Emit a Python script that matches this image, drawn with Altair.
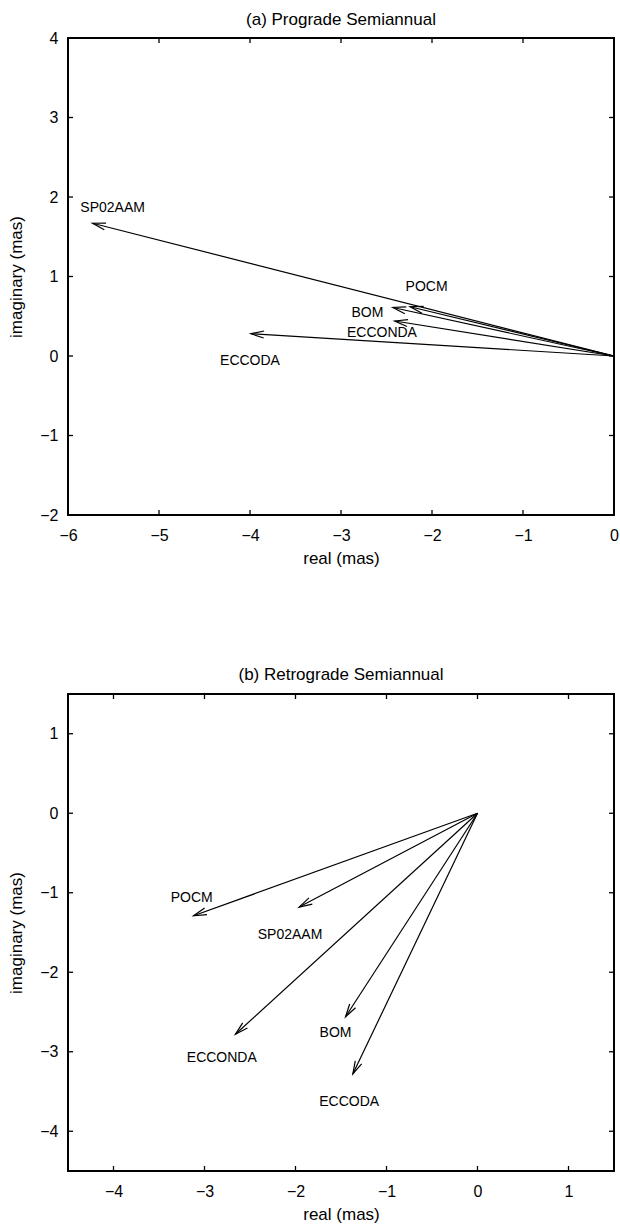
import altair as alt
import pandas as pd

FONT = "Liberation Sans"

# ---- panel (a) prograde semiannual ----
names_a = ["SP02AAM", "POCM", "BOM", "ECCONDA", "ECCODA"]
re_a = [-5.73, -2.24, -2.43, -2.41, -3.99]
im_a = [1.67, 0.62, 0.61, 0.44, 0.28]
label_re_a = [-5.51, -2.06, -2.71, -2.55, -4.00]
label_im_a = [1.86, 0.87, 0.54, 0.29, -0.06]
xticks_a = [-6, -5, -4, -3, -2, -1, 0]
yticks_a = [-2, -1, 0, 1, 2, 3, 4]
xdomain_a = [-6, 0]
ydomain_a = [-2, 4]

# ---- panel (b) retrograde semiannual ----
names_b = ["POCM", "SP02AAM", "ECCONDA", "BOM", "ECCODA"]
re_b = [-3.12, -1.96, -2.66, -1.45, -1.37]
im_b = [-1.29, -1.18, -2.78, -2.56, -3.28]
label_re_b = [-3.14, -2.06, -2.81, -1.56, -1.41]
label_im_b = [-1.06, -1.53, -3.08, -2.76, -3.63]
xticks_b = [-4, -3, -2, -1, 0, 1]
yticks_b = [-4, -3, -2, -1, 0, 1]
xdomain_b = [-4.5, 1.5]
ydomain_b = [-4.5, 1.5]

W, H = 546, 477
TICK = 5
HEAD = "M-1,-0.27L0,0L-1,0.27"


def panel(title, names, re, im, lre, lim, xdom, ydom, xt, yt, toff):
    sx = W / (xdom[1] - xdom[0])
    sy = H / (ydom[1] - ydom[0])
    arrows = pd.DataFrame({"name": names, "re": re, "im": im})
    labels = pd.DataFrame({"name": names, "lre": lre, "lim": lim})
    xs = alt.Scale(domain=xdom, nice=False, zero=False)
    ys = alt.Scale(domain=ydom, nice=False, zero=False)
    xaxis = alt.Axis(values=xt, ticks=False, tickSize=0, domain=False, grid=False,
                     labelPadding=12, titlePadding=7, labelFlush=False,
                     labelOverlap=False, format="d")
    yaxis = alt.Axis(values=yt, ticks=False, tickSize=0, domain=False, grid=False,
                     labelPadding=10, titlePadding=14, labelFlush=False,
                     labelOverlap=False, format="d")
    XT = "real (mas)"
    YT = "imaginary (mas)"

    shafts = alt.Chart(arrows).transform_calculate(o0="0").mark_rule(
        color="black", strokeWidth=1.2
    ).encode(
        x=alt.X("o0:Q", scale=xs, axis=xaxis, title=XT),
        x2="re:Q",
        y=alt.Y("o0:Q", scale=ys, axis=yaxis, title=YT),
        y2="im:Q",
    )
    heads = alt.Chart(arrows).transform_calculate(
        ang=f"(360 + atan2(-datum.im * {sy}, datum.re * {sx}) * 180 / PI) % 360"
    ).mark_point(
        shape=HEAD, filled=False, color="black", size=676, strokeWidth=1.2, opacity=1
    ).encode(
        x=alt.X("re:Q", scale=xs, axis=xaxis, title=XT),
        y=alt.Y("im:Q", scale=ys, axis=yaxis, title=YT),
        angle=alt.Angle("ang:Q", scale=None),
    )
    text = alt.Chart(labels).mark_text(
        font=FONT, fontSize=14, color="black", align="center", baseline="middle"
    ).encode(
        x=alt.X("lre:Q", scale=xs, axis=xaxis, title=XT),
        y=alt.Y("lim:Q", scale=ys, axis=yaxis, title=YT),
        text="name:N",
    )
    xtdf = pd.DataFrame({"v": xt})
    ytdf = pd.DataFrame({"v": yt})
    rule = dict(color="black", strokeWidth=1.3)
    bt = alt.Chart(xtdf).mark_rule(**rule).encode(
        x=alt.X("v:Q", scale=xs, axis=xaxis, title=XT),
        y=alt.value(H), y2=alt.value(H - TICK))
    tt = alt.Chart(xtdf).mark_rule(**rule).encode(
        x=alt.X("v:Q", scale=xs, axis=xaxis, title=XT),
        y=alt.value(0), y2=alt.value(TICK))
    lt = alt.Chart(ytdf).mark_rule(**rule).encode(
        y=alt.Y("v:Q", scale=ys, axis=yaxis, title=YT),
        x=alt.value(0), x2=alt.value(TICK))
    rt = alt.Chart(ytdf).mark_rule(**rule).encode(
        y=alt.Y("v:Q", scale=ys, axis=yaxis, title=YT),
        x=alt.value(W), x2=alt.value(W - TICK))
    return alt.layer(shafts, heads, text, bt, tt, lt, rt).properties(
        width=W, height=H,
        title=alt.Title(title, fontSize=17, font=FONT, fontWeight="normal",
                        frame="group", offset=toff, color="black"),
    )


pa = panel("(a) Prograde Semiannual", names_a, re_a, im_a, label_re_a, label_im_a,
           xdomain_a, ydomain_a, xticks_a, yticks_a, 1)
pb = panel("(b) Retrograde Semiannual", names_b, re_b, im_b, label_re_b, label_im_b,
           xdomain_b, ydomain_b, xticks_b, yticks_b, 9)

chart = alt.vconcat(pa, pb, spacing=98).configure_view(
    stroke="black", strokeWidth=2
).configure_axis(
    labelFont=FONT, titleFont=FONT, labelFontSize=16, titleFontSize=17,
    titleFontWeight="normal", labelColor="black", titleColor="black"
).properties(
    padding={"left": 6, "top": 10, "right": 0, "bottom": 2},
    background="white",
)

chart.save("out.html", embed_options={"renderer": "svg", "actions": False})
